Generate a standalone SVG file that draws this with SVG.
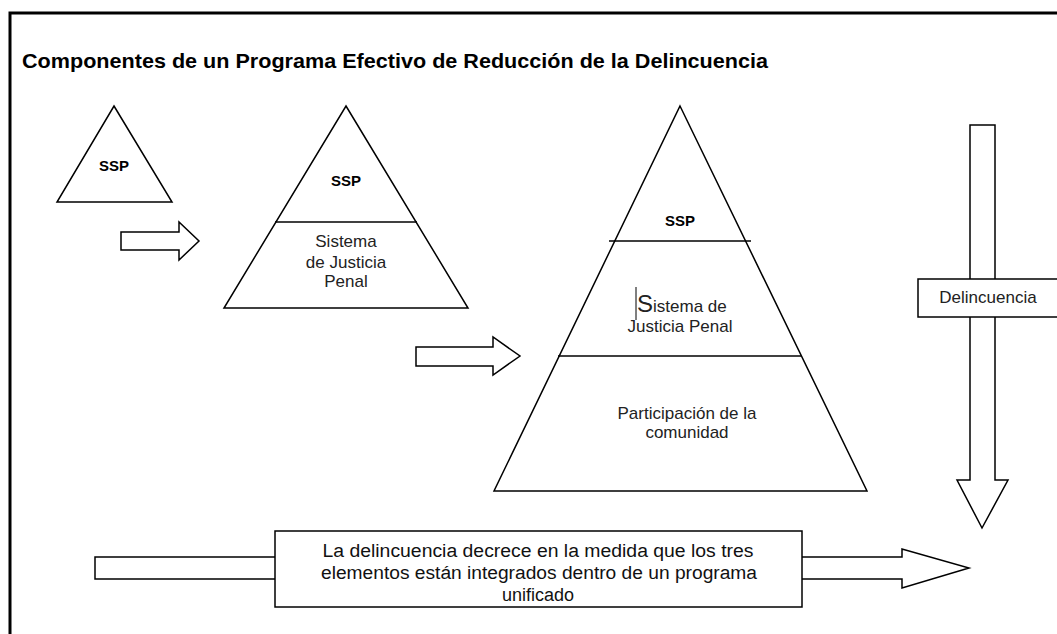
<svg xmlns="http://www.w3.org/2000/svg" width="1057" height="634" viewBox="0 0 1057 634">
<style>
.shape{fill:#fff;stroke:#000;stroke-width:1.5;stroke-linejoin:miter}
.line{stroke:#000;stroke-width:1.5}
.t{font-family:"Liberation Sans",Arial,sans-serif;font-size:17px;fill:#222;text-anchor:middle}
.b{font-family:"Liberation Sans",Arial,sans-serif;font-size:15px;font-weight:bold;fill:#000;text-anchor:middle}
.n{font-family:"Liberation Sans Narrow","Liberation Sans",Arial,sans-serif;font-size:18px;fill:#111;text-anchor:middle}
</style>
<rect width="1057" height="634" fill="#fff"/>
<path d="M10,634 V13 H1057" fill="none" stroke="#000" stroke-width="3"/>
<text x="22" y="68" font-family="Liberation Sans,Arial,sans-serif" font-size="21" font-weight="bold" fill="#000" textLength="746" lengthAdjust="spacingAndGlyphs">Componentes de un Programa Efectivo de Reducción de la Delincuencia</text>

<g id="pyramid1">
<polygon class="shape" points="114,106 172,202 57,202"/>
<text class="b" x="114" y="171">SSP</text>
</g>

<g id="pyramid2">
<polygon class="shape" points="346,106 468,308 224,308"/>
<line class="line" x1="275" y1="222" x2="417" y2="222"/>
<text class="b" x="346" y="186">SSP</text>
<text class="t" x="346" y="247">Sistema</text>
<text class="t" x="346" y="268">de Justicia</text>
<text class="t" x="346" y="287">Penal</text>
</g>

<g id="pyramid3">
<polygon class="shape" points="680,106 867,491 494,491"/>
<line class="line" x1="609" y1="241" x2="751" y2="241"/>
<line class="line" x1="558" y1="356" x2="801" y2="356"/>
<text class="b" x="680" y="226" font-size="14">SSP</text>
<line x1="636" y1="287" x2="636" y2="320" stroke="#000" stroke-width="1"/>
<text class="t" x="637" y="312" style="text-anchor:start"><tspan font-size="24">S</tspan>istema de</text>
<text class="t" x="680" y="332">Justicia Penal</text>
<text class="t" x="687" y="419">Participación de la</text>
<text class="t" x="687" y="438">comunidad</text>
</g>

<g id="connectors">
<polygon id="arrow1" class="shape" points="121,232 179,232 179,222 199,241 179,260 179,250 121,250"/>
<polygon id="arrow2" class="shape" points="416,347 493,347 493,337 520,356 493,375 493,366 416,366"/>
<polygon id="arrow-down" class="shape" points="970,125 995,125 995,480 1008,480 982,528 957,480 970,480"/>
<polygon id="arrow-bottom" class="shape" points="95,557 902,557 902,549 969,568 902,588 902,579 95,579"/>
</g>

<g id="delincuencia">
<rect class="shape" x="918" y="279" width="145" height="38" stroke-width="1"/>
<text class="t" x="988" y="303">Delincuencia</text>
</g>

<g id="conclusion">
<rect class="shape" x="275" y="531" width="527" height="76"/>
<text class="n" x="538" y="557" textLength="431" lengthAdjust="spacingAndGlyphs">La delincuencia decrece en la medida que los tres</text>
<text class="n" x="539" y="579" textLength="436" lengthAdjust="spacingAndGlyphs">elementos están integrados dentro de un programa</text>
<text class="n" x="538" y="601">unificado</text>
</g>
</svg>
